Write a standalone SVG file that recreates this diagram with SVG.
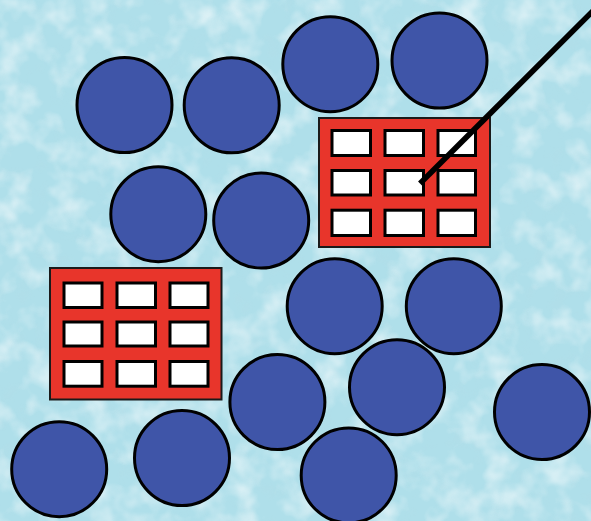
<svg xmlns="http://www.w3.org/2000/svg" width="591" height="521" viewBox="0 0 591 521">
  <style>
    .ball { fill: #3F55A8; stroke: #000; stroke-width: 3; }
    .frame { fill: #E8352B; stroke: #1a1a1a; stroke-width: 2; }
    .cell { fill: #FFFFFF; stroke: #000; stroke-width: 3; }
    .wire { stroke: #000; stroke-width: 5.5; fill: none; }
  </style>
  <defs>
    <filter id="tex" x="0" y="0" width="100%" height="100%">
      <feTurbulence type="fractalNoise" baseFrequency="0.035" numOctaves="3" seed="7"/>
      <feColorMatrix type="matrix" values="0 0 0 0 1  0 0 0 0 1  0 0 0 0 1  2.4 0 0 0 -1.05"/>
    </filter>
    <filter id="tex2" x="0" y="0" width="100%" height="100%">
      <feTurbulence type="fractalNoise" baseFrequency="0.06" numOctaves="2" seed="21"/>
      <feColorMatrix type="matrix" values="0 0 0 0 0.45  0 0 0 0 0.72  0 0 0 0 0.80  0 2.2 0 0 -1.15"/>
    </filter>
  </defs>

  <g id="background">
    <rect x="0" y="0" width="591" height="521" fill="#AFDFEA"/>
    <rect x="0" y="0" width="591" height="521" filter="url(#tex2)" opacity="0.5"/>
    <rect x="0" y="0" width="591" height="521" filter="url(#tex)" opacity="0.55"/>
  </g>

  <g id="ball-1"><circle class="ball" cx="124.5" cy="105" r="47.5"/></g>
  <g id="ball-2"><circle class="ball" cx="231.7" cy="105.3" r="47.5"/></g>
  <g id="ball-3"><circle class="ball" cx="330.3" cy="64.2" r="47.5"/></g>
  <g id="ball-4"><circle class="ball" cx="439.5" cy="60.5" r="47.5"/></g>
  <g id="ball-5"><circle class="ball" cx="158.3" cy="214.2" r="47.5"/></g>
  <g id="ball-6"><circle class="ball" cx="261.2" cy="220.5" r="47.5"/></g>
  <g id="ball-7"><circle class="ball" cx="334.7" cy="306.2" r="47.5"/></g>
  <g id="ball-8"><circle class="ball" cx="453.8" cy="306.2" r="47.5"/></g>
  <g id="ball-9"><circle class="ball" cx="397" cy="387.2" r="47.5"/></g>
  <g id="ball-10"><circle class="ball" cx="277.4" cy="402" r="47.5"/></g>
  <g id="ball-11"><circle class="ball" cx="542" cy="412" r="47.5"/></g>
  <g id="ball-12"><circle class="ball" cx="59.2" cy="469.2" r="47.5"/></g>
  <g id="ball-13"><circle class="ball" cx="182" cy="458" r="47.5"/></g>
  <g id="ball-14"><circle class="ball" cx="348.7" cy="475.4" r="47.5"/></g>

  <g id="grid-upper">
    <rect class="frame" x="319" y="118" width="171" height="129"/>
    <rect class="cell" x="332" y="130.5" width="38.5" height="25"/>
    <rect class="cell" x="385" y="130.5" width="38.5" height="25"/>
    <rect class="cell" x="438" y="130.5" width="37.5" height="25"/>
    <rect class="cell" x="332" y="170.5" width="38.5" height="24.5"/>
    <rect class="cell" x="385" y="170.5" width="38.5" height="24.5"/>
    <rect class="cell" x="438" y="170.5" width="37.5" height="24.5"/>
    <rect class="cell" x="332" y="210.2" width="38.5" height="25.3"/>
    <rect class="cell" x="385" y="210.2" width="38.5" height="25.3"/>
    <rect class="cell" x="438" y="210.2" width="37.5" height="25.3"/>
  </g>

  <g id="grid-lower">
    <rect class="frame" x="50" y="268" width="171.5" height="131.5"/>
    <rect class="cell" x="64" y="283" width="38" height="24.5"/>
    <rect class="cell" x="117" y="283" width="38.5" height="24.5"/>
    <rect class="cell" x="170" y="283" width="38" height="24.5"/>
    <rect class="cell" x="64" y="322" width="38" height="24"/>
    <rect class="cell" x="117" y="322" width="38.5" height="24"/>
    <rect class="cell" x="170" y="322" width="38" height="24"/>
    <rect class="cell" x="64" y="361.5" width="38" height="24.7"/>
    <rect class="cell" x="117" y="361.5" width="38.5" height="24.7"/>
    <rect class="cell" x="170" y="361.5" width="38" height="24.7"/>
  </g>

  <g id="connectors">
    <line class="wire" x1="602" y1="2" x2="420" y2="183.5"/>
  </g>
</svg>
